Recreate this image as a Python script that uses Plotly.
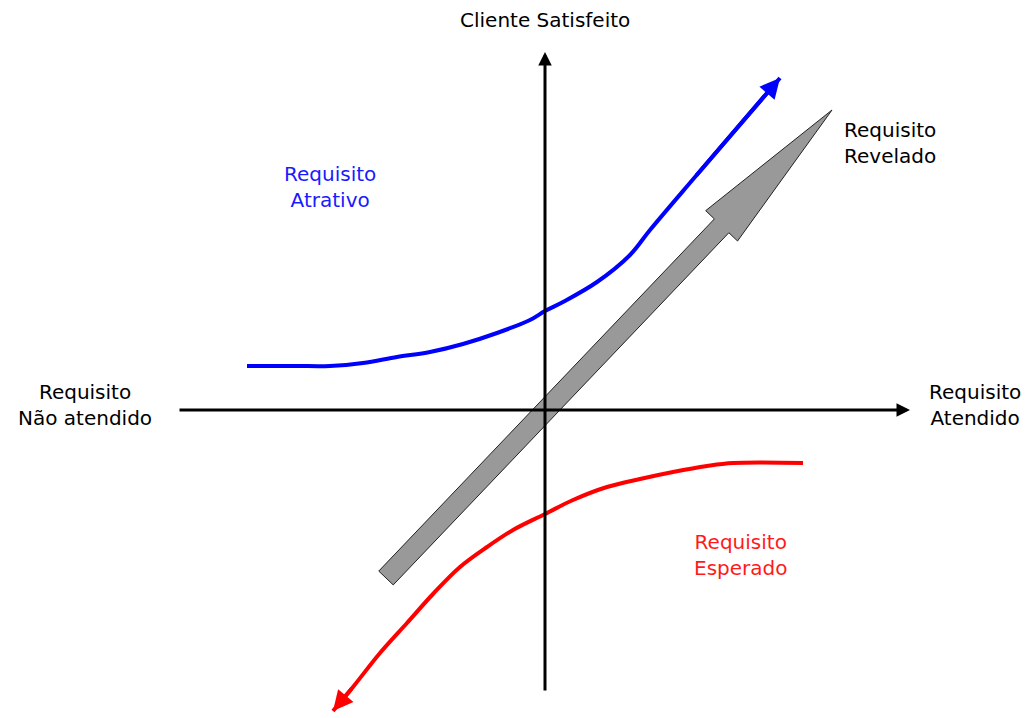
import numpy as np
import plotly.graph_objects as go

# Coordinates: origin at the crossing of the two axes (units ~ pixels)
AXIS_X = [-367, 365]          # horizontal axis start / end (arrow)
AXIS_Y = [-282, 358]          # vertical axis start / end (arrow)

ATRATIVO_X = [-298, -250, -215, -182, -148, -115, -82, -48, -15, 0, 18, 52, 85, 105, 150, 235]
ATRATIVO_Y = [44, 44, 44, 47, 53, 58, 66, 77, 90, 99, 108, 128, 155, 180, 233, 332]

ESPERADO_X = [258, 188, 162, 128, 95, 62, 28, 0, -32, -58, -85, -112, -138, -165, -192, -212]
ESPERADO_Y = [-53, -53, -56, -62, -69, -77, -90, -104, -120, -137, -157, -184, -213, -243, -277, -301]

REVELADO_TAIL = [-159, -168]
REVELADO_TIP = [287, 300]

LABELS = {
    "Cliente Satisfeito": (0, 390, "black"),
    "Requisito<br>Não atendido": (-460, 5, "black"),
    "Requisito<br>Atendido": (430, 5, "black"),
    "Requisito<br>Revelado": (345, 267, "black"),
    "Requisito<br>Atrativo": (-215, 223, "#1a1aff"),
    "Requisito<br>Esperado": (195, -145, "#ff1a1a"),
}

FONT = "DejaVu Sans, Verdana, sans-serif"
FS = 20

fig = go.Figure()

# Big gray arrow (Requisito Revelado)
tail = np.array(REVELADO_TAIL, float)
tip = np.array(REVELADO_TIP, float)
u = (tip - tail) / np.linalg.norm(tip - tail)
n = np.array([-u[1], u[0]])
head_len, shaft_hw, head_hw = 160, 10, 22
base = tip - u * head_len
poly = np.array([tail + n * shaft_hw, base + n * shaft_hw, base + n * head_hw, tip,
                 base - n * head_hw, base - n * shaft_hw, tail - n * shaft_hw, tail + n * shaft_hw])

fig.add_trace(go.Scatter(x=ATRATIVO_X, y=ATRATIVO_Y, mode="lines",
                         line=dict(color="#0000ff", width=4, shape="spline", smoothing=1.0),
                         hoverinfo="skip"))
fig.add_trace(go.Scatter(x=ESPERADO_X, y=ESPERADO_Y, mode="lines",
                         line=dict(color="#ff0000", width=4, shape="spline", smoothing=1.0),
                         hoverinfo="skip"))
fig.add_trace(go.Scatter(x=poly[:, 0], y=poly[:, 1], mode="lines", fill="toself",
                         fillcolor="#999999", line=dict(color="#222222", width=1),
                         hoverinfo="skip"))

annotations = []
arrow_common = dict(xref="x", yref="y", axref="x", ayref="y", text="", showarrow=True,
                    arrowhead=2, standoff=0)
annotations.append(dict(x=AXIS_X[1], y=0, ax=AXIS_X[0], ay=0, arrowsize=0.9, arrowwidth=3,
                        arrowcolor="black", **arrow_common))
annotations.append(dict(x=0, y=AXIS_Y[1], ax=0, ay=AXIS_Y[0], arrowsize=0.9, arrowwidth=3,
                        arrowcolor="black", **arrow_common))
annotations.append(dict(x=ATRATIVO_X[-1], y=ATRATIVO_Y[-1], ax=ATRATIVO_X[-2], ay=ATRATIVO_Y[-2],
                        arrowsize=1.0, arrowwidth=4, arrowcolor="#0000ff", **arrow_common))
annotations.append(dict(x=ESPERADO_X[-1], y=ESPERADO_Y[-1], ax=ESPERADO_X[-2], ay=ESPERADO_Y[-2],
                        arrowsize=1.0, arrowwidth=4, arrowcolor="#ff0000", **arrow_common))
for txt, (lx, ly, col) in LABELS.items():
    annotations.append(dict(x=lx, y=ly, xref="x", yref="y", text=txt, showarrow=False,
                            font=dict(family=FONT, size=FS, color=col), align="center",
                            xanchor="center", yanchor="middle"))

# page body has an 8px margin: shrink the figure and shift ranges accordingly
fig.update_layout(
    width=1025, height=710, autosize=False,
    margin=dict(l=0, r=0, t=0, b=0),
    paper_bgcolor="white", plot_bgcolor="white",
    showlegend=False,
    xaxis=dict(range=[-537, 488], visible=False, fixedrange=True),
    yaxis=dict(range=[-308, 402], visible=False, fixedrange=True),
    annotations=annotations,
)

fig.write_html("out.html", config={"displayModeBar": False})
